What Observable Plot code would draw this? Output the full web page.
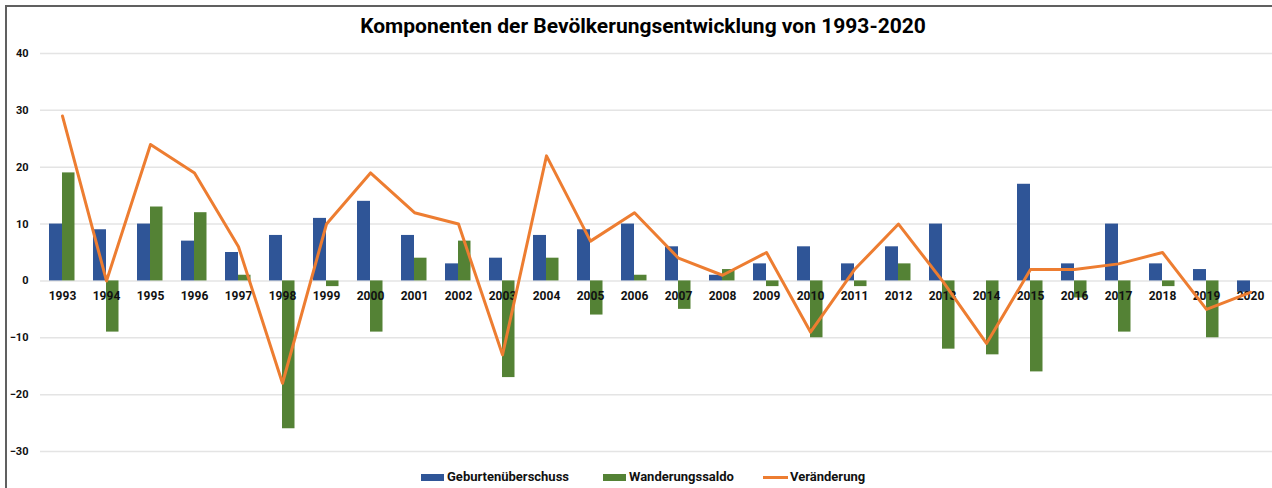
<!DOCTYPE html>
<html>
<head>
<meta charset="utf-8">
<script src="https://cdn.jsdelivr.net/npm/d3@7"></script>
<script src="https://cdn.jsdelivr.net/npm/@observablehq/plot@0.6"></script>
<style>
  body { margin: 0; background: #fff; font-family: Roboto, "Noto Sans", sans-serif; }
  #frame { position: absolute; left: 5px; top: 5px; width: 1400px; height: 600px;
    border-top: 2px solid #606060; border-left: 2px solid #606060; pointer-events: none; z-index: 2; }
  #title { box-sizing: border-box; height: 40px; width: 1272px; padding-top: 13.5px; padding-left: 14px;
    text-align: center; font: bold 21px/25px Roboto, sans-serif; color: #000; }
  #legend { position: relative; height: 24px; width: 1272px; font: bold 13px/26px Roboto, sans-serif; color: #111; }
  .item { position: absolute; top: 0; display: flex; align-items: center; height: 26px; }
  .sw { width: 23px; height: 7px; margin-right: 3px; }
  .ln { width: 25px; height: 3px; margin-right: 2px; }
</style>
</head>
<body>
<div id="frame"></div>
<div id="title">Komponenten der Bevölkerungsentwicklung von 1993-2020</div>
<div id="chart"></div>
<div id="legend"></div>
<script>
const years = [1993,1994,1995,1996,1997,1998,1999,2000,2001,2002,2003,2004,2005,2006,2007,2008,2009,2010,2011,2012,2013,2014,2015,2016,2017,2018,2019,2020];
const geburtenueberschuss = [10,9,10,7,5,8,11,14,8,3,4,8,9,10,6,1,3,6,3,6,10,0,17,3,10,3,2,-2];
const wanderungssaldo = [19,-9,13,12,1,-26,-1,-9,4,7,-17,4,-6,1,-5,2,-1,-10,-1,3,-12,-13,-16,-3,-9,-1,-10,0];
const veraenderung = [29,0,24,19,6,-18,10,19,12,10,-13,22,7,12,4,1,5,-9,2,10,0,-11,2,2,3,5,-5,-2];
const yTicks = [-30,-20,-10,0,10,20,30,40];
const seriesNames = ["Geburtenüberschuss", "Wanderungssaldo", "Veränderung"];
const colors = ["#2F5597", "#548235", "#ED7D31"];

const data = years.map((year, i) => ({
  year, geb: geburtenueberschuss[i], wan: wanderungssaldo[i], ver: veraenderung[i]
}));

const chart = Plot.plot({
  width: 1272,
  height: 424,
  marginTop: 13,
  marginBottom: 13,
  marginLeft: 40,
  marginRight: 0,
  style: { fontFamily: "Roboto, sans-serif", background: "transparent" },
  x: { type: "band", domain: years, padding: 0, axis: null },
  y: { domain: [-30, 40], axis: null },
  marks: [
    Plot.gridY(yTicks, { stroke: "#e4e4e4", strokeOpacity: 1, strokeWidth: 1.5 }),
    Plot.axisY(yTicks, { tickSize: 0, tickPadding: 12, fontSize: 11, fontWeight: "bold", fill: "#111", label: null }),
    Plot.barY(data, { x: "year", y: "geb", fill: colors[0], insetLeft: 9, insetRight: 22 }),
    Plot.barY(data, { x: "year", y: "wan", fill: colors[1], insetLeft: 22, insetRight: 9.5 }),
    Plot.text(years, { x: d => d, y: 0, dy: 15.5, text: d => String(d), fontSize: 12, fontWeight: "bold", fill: "#111" }),
    Plot.lineY(data, { x: "year", y: "ver", stroke: colors[2], strokeWidth: 3, strokeLinejoin: "round", curve: "linear" })
  ]
});
document.getElementById("chart").appendChild(chart);

const legend = document.getElementById("legend");
const lefts = [421, 603, 763];
seriesNames.forEach((name, i) => {
  const item = document.createElement("div");
  item.className = "item";
  item.style.left = lefts[i] + "px";
  const sw = document.createElement("span");
  sw.className = i === 2 ? "ln" : "sw";
  sw.style.background = colors[i];
  const tx = document.createElement("span");
  tx.textContent = name;
  item.appendChild(sw);
  item.appendChild(tx);
  legend.appendChild(item);
});
</script>
</body>
</html>
